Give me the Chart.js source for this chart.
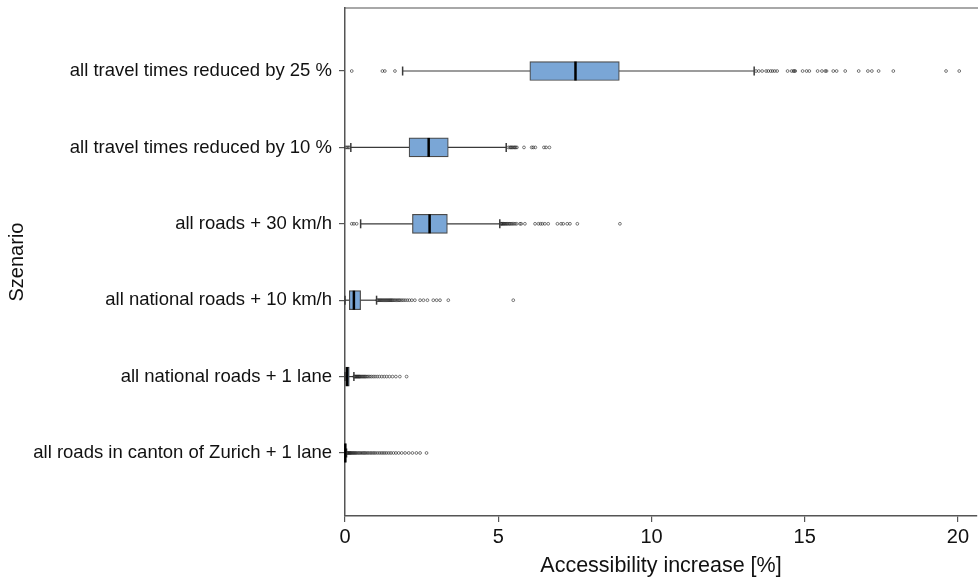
<!DOCTYPE html>
<html>
<head>
<meta charset="utf-8">
<script src="https://cdn.jsdelivr.net/npm/chart.js@4.4.1/dist/chart.umd.min.js"></script>
<style>
  html, body { margin: 0; padding: 0; background: #fff; }
  #wrap { width: 978px; height: 581px; }
</style>
</head>
<body>
<div id="wrap"><canvas id="chart" width="978" height="581"></canvas></div>
<script>
// scenarios, top to bottom
const scenarios = [
    'all travel times reduced by 25 %',
    'all travel times reduced by 10 %',
    'all roads + 30 km/h',
    'all national roads + 10 km/h',
    'all national roads + 1 lane',
    'all roads in canton of Zurich + 1 lane'
];

// box statistics, accessibility increase in %
const whiskerLow  = [1.88, 0.19, 0.51, 0.00, 0.00, 0.00];
const q1          = [6.03, 2.09, 2.20, 0.14, 0.02, 0.00];
const median      = [7.52, 2.73, 2.76, 0.29, 0.07, 0.01];
const q3          = [8.95, 3.37, 3.34, 0.51, 0.14, 0.03];
const whiskerHigh = [13.35, 5.26, 5.05, 1.03, 0.29, 0.05];

// outliers per scenario
const outliers25 = [0.22, 1.22, 1.30, 1.63, 13.41, 13.50, 13.61, 13.74, 13.81, 13.89, 13.95, 14.02, 14.10,
    14.44, 14.57, 14.63, 14.66, 14.69, 14.93, 15.06, 15.15, 15.42, 15.56, 15.67, 15.71, 15.93, 16.04,
    16.32, 16.76, 17.06, 17.19, 17.41, 17.89, 19.61, 20.04];
const outliers10 = [0.03, 0.07, 0.11, 0.14, 5.33, 5.38, 5.41, 5.44, 5.47, 5.51, 5.54, 5.57, 5.61, 5.84,
    6.09, 6.14, 6.21, 6.49, 6.56, 6.67];
const outliers30kmh = [0.22, 0.29, 0.38, 5.08, 5.10, 5.12, 5.14, 5.17, 5.19, 5.22, 5.25, 5.28, 5.31, 5.35,
    5.38, 5.42, 5.46, 5.50, 5.55, 5.60, 5.71, 5.75, 5.87, 6.20, 6.31, 6.38, 6.44, 6.52, 6.63, 6.93, 7.05,
    7.12, 7.25, 7.34, 7.58, 8.97];
const outliersNat10 = [1.05, 1.08, 1.11, 1.14, 1.17, 1.20, 1.23, 1.26, 1.29, 1.32, 1.35, 1.38, 1.41, 1.44,
    1.47, 1.50, 1.53, 1.56, 1.60, 1.64, 1.68, 1.72, 1.76, 1.80, 1.85, 1.90, 1.96, 2.03, 2.10, 2.18, 2.28,
    2.45, 2.56, 2.69, 2.88, 2.99, 3.10, 3.37, 5.49];
const outliersLane = [0.30, 0.32, 0.34, 0.36, 0.38, 0.40, 0.42, 0.44, 0.46, 0.48, 0.50, 0.53, 0.56, 0.59,
    0.62, 0.65, 0.68, 0.72, 0.76, 0.81, 0.86, 0.92, 0.98, 1.05, 1.12, 1.20, 1.28, 1.36, 1.45, 1.55, 1.66,
    1.79, 2.01];
const outliersZurich = [0.06, 0.08, 0.10, 0.12, 0.14, 0.16, 0.18, 0.20, 0.23, 0.26, 0.29, 0.32, 0.35, 0.38,
    0.42, 0.46, 0.50, 0.54, 0.58, 0.62, 0.66, 0.70, 0.75, 0.80, 0.85, 0.90, 0.95, 1.00, 1.06, 1.12, 1.18,
    1.24, 1.30, 1.36, 1.43, 1.50, 1.58, 1.66, 1.75, 1.85, 1.96, 2.08, 2.20, 2.33, 2.45, 2.66];
const outliers = [outliers25, outliers10, outliers30kmh, outliersNat10, outliersLane, outliersZurich];

const xTicks = [0, 5, 10, 15, 20];

const FONT = "'Liberation Sans', Arial, sans-serif";
const BOX_FILL = '#7aa6d6';
const LINE = '#3a3a3a';

const whiskerSets = scenarios.map((s, i) => ({
    type: 'line',
    data: [{ x: whiskerLow[i], y: i + 1 }, { x: whiskerHigh[i], y: i + 1 }],
    borderColor: LINE,
    borderWidth: 1.2,
    pointRadius: 0,
    clip: false,
    order: 5
}));

const capPoints = [];
scenarios.forEach((s, i) => {
    capPoints.push({ x: whiskerLow[i], y: i + 1 });
    capPoints.push({ x: whiskerHigh[i], y: i + 1 });
});

const outlierPoints = [];
outliers.forEach((list, i) => {
    list.forEach(v => outlierPoints.push({ x: v, y: i + 1 }));
});

// scale callback: drop the automatic label padding, the frame is fixed
const noPadding = scale => {
    scale.paddingLeft = 0;
    scale.paddingRight = 0;
    scale.paddingTop = 0;
    scale.paddingBottom = 0;
};

const config = {
    type: 'bar',
    data: {
        datasets: [
            ...whiskerSets,
            {
                type: 'bar',
                indexAxis: 'y',
                data: scenarios.map((s, i) => ({ y: i + 1, x: [q1[i], q3[i]] })),
                backgroundColor: BOX_FILL,
                borderColor: '#4a4a4a',
                borderWidth: 1.2,
                borderSkipped: false,
                barThickness: 19,
                order: 3
            },
            {
                type: 'line',
                showLine: false,
                data: capPoints,
                pointStyle: 'line',
                rotation: 90,
                pointRadius: 4.5,
                pointBorderWidth: 1.5,
                pointBorderColor: LINE,
                clip: false,
                order: 2
            },
            {
                type: 'line',
                showLine: false,
                data: median.map((m, i) => ({ x: m, y: i + 1 })),
                pointStyle: 'line',
                rotation: 90,
                pointRadius: 9.5,
                pointBorderWidth: 2.5,
                pointBorderColor: '#000',
                clip: false,
                order: 1
            },
            {
                type: 'line',
                showLine: false,
                data: outlierPoints,
                pointStyle: 'circle',
                pointRadius: 1.4,
                pointBorderWidth: 0.9,
                pointBorderColor: 'rgba(30,30,30,0.65)',
                pointBackgroundColor: 'rgba(255,255,255,0)',
                clip: false,
                order: 4
            }
        ]
    },
    options: {
        responsive: false,
        animation: false,
        events: [],
        layout: { autoPadding: false, padding: { top: 8, right: 1, left: 0, bottom: 0 } },
        plugins: {
            legend: { display: false },
            tooltip: { enabled: false }
        },
        scales: {
            x: {
                type: 'linear',
                position: 'bottom',
                offset: false,
                min: 0,
                max: 20.62,
                afterBuildTicks: scale => { scale.ticks = xTicks.map(v => ({ value: v })); },
                afterFit: scale => {
                    scale.height = 65;
                    noPadding(scale);
                },
                grid: { display: true, offset: false, drawOnChartArea: false, drawTicks: true, tickLength: 6, color: '#555', lineWidth: 1.2 },
                border: { display: true, color: '#555', width: 1.5 },
                ticks: { color: '#111', font: { family: FONT, size: 20 }, padding: 3, maxRotation: 0 },
                title: {
                    display: true,
                    text: 'Accessibility increase [%]',
                    color: '#111',
                    font: { family: FONT, size: 21.5 },
                    padding: { top: 0, bottom: 2 }
                }
            },
            x2: {
                type: 'linear',
                position: 'top',
                offset: false,
                afterFit: scale => {
                    scale.height = 0;
                    noPadding(scale);
                },
                grid: { display: false },
                border: { display: true, color: '#a8a8a8', width: 2 },
                ticks: { display: false }
            },
            y: {
                type: 'linear',
                reverse: true,
                offset: false,
                min: 0.175,
                max: 6.825,
                afterBuildTicks: scale => { scale.ticks = scenarios.map((s, i) => ({ value: i + 1 })); },
                afterFit: scale => {
                    scale.width = 345;
                    noPadding(scale);
                },
                grid: { display: true, offset: false, drawOnChartArea: false, drawTicks: true, tickLength: 6, color: '#555', lineWidth: 1.2 },
                border: { display: true, color: '#555', width: 1.5 },
                ticks: {
                    autoSkip: false,
                    color: '#111',
                    font: { family: FONT, size: 18.5 },
                    padding: 7,
                    callback: v => scenarios[Math.round(v) - 1]
                },
                title: {
                    display: true,
                    text: 'Szenario',
                    color: '#111',
                    font: { family: FONT, size: 20 },
                    padding: { top: 5, bottom: 0 }
                }
            }
        }
    }
};

new Chart(document.getElementById('chart'), config);
</script>
</body>
</html>
